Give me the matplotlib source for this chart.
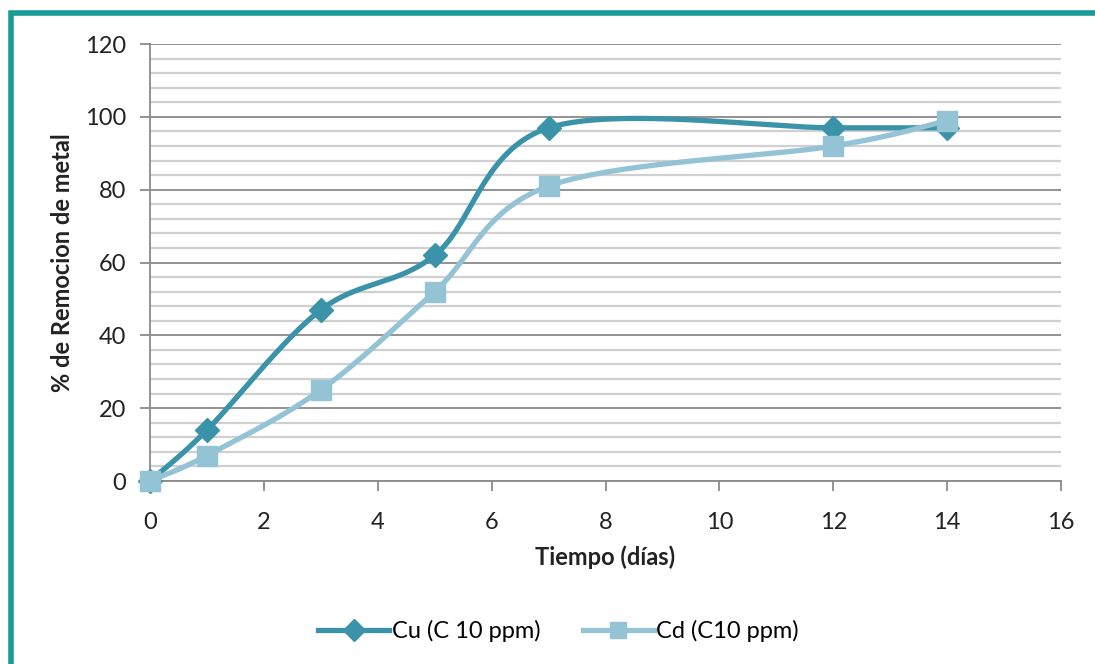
import numpy as np
import matplotlib
matplotlib.use("Agg")
import matplotlib.pyplot as plt
from matplotlib.lines import Line2D
from matplotlib.patches import Rectangle

plt.rcParams['font.family'] = ['Lato', 'DejaVu Sans']

dias = [0, 1, 3, 5, 7, 12, 14]
cu = [0, 14, 47, 62, 97, 97, 97]
cd = [0, 7, 25, 52, 81, 92, 99]

c_cu = "#3a93a8"
c_cd = "#93c3d5"


def smooth(x, y, n=40):
    # bezier smoothing like the spreadsheet "smoothed line" option
    p = np.column_stack([x, y]).astype(float)
    p = np.vstack([p[0], p, p[-1]])
    out = []
    t = np.linspace(0, 1, n)[:, None]
    for i in range(1, len(p) - 2):
        p0, p3 = p[i], p[i + 1]
        p1 = p0 + (p[i + 1] - p[i - 1]) / 6
        p2 = p3 - (p[i + 2] - p[i]) / 6
        seg = ((1 - t) ** 3) * p0 + 3 * ((1 - t) ** 2) * t * p1 \
            + 3 * (1 - t) * t ** 2 * p2 + t ** 3 * p3
        out.append(seg)
    out = np.vstack(out)
    return out[:, 0], out[:, 1]


fig = plt.figure(figsize=(10.95, 6.64), dpi=100)
ax = fig.add_axes([0.137, 0.2756, 0.832, 0.658])

# frame around the chart
fig.patches.append(Rectangle((11 / 1095, -0.1), 1.2, (664 - 13) / 664 + 0.1,
                             transform=fig.transFigure, fill=False,
                             edgecolor="#1a9c96", linewidth=4, zorder=0))

ax.set_yticks(np.arange(0, 121, 4), minor=True)
ax.set_yticks(np.arange(0, 121, 20))
ax.set_xticks(np.arange(0, 17, 2))
ax.set_xlim(0, 16)
ax.set_ylim(0, 120)
ax.grid(True, which="minor", axis="y", color="#d0d0d0", linewidth=1.6, zorder=0)
ax.grid(True, which="major", axis="y", color="#8a8a8a", linewidth=1.3, zorder=0)
ax.tick_params(which="minor", length=0)
ax.tick_params(which="major", length=7, width=1.3, color="#8a8a8a",
               labelsize=17, labelcolor="#222222")
ax.tick_params(axis="x", pad=15)
ax.tick_params(axis="y", pad=10)

for s in ["top", "right"]:
    ax.spines[s].set_visible(False)
for s in ["left", "bottom"]:
    ax.spines[s].set_color("#8a8a8a")
    ax.spines[s].set_linewidth(1.3)

sx, sy = smooth(dias, cu)
ax.plot(sx, sy, color=c_cu, lw=3.8, zorder=3, clip_on=False)
ax.plot(dias, cu, "D", color=c_cu, ms=12, zorder=4, clip_on=False)

sx, sy = smooth(dias, cd)
ax.plot(sx, sy, color=c_cd, lw=3.8, zorder=3, clip_on=False)
ax.plot(dias, cd, "s", color=c_cd, ms=14, zorder=4, clip_on=False)

ax.set_xlabel("Tiempo (días)", fontsize=17, fontweight="bold", labelpad=9,
              color="#222222")
ax.set_ylabel("% de Remocion de metal", fontsize=17, fontweight="bold",
              labelpad=8, color="#222222")

handles = [Line2D([], [], color=c_cu, lw=3.8, marker="D", ms=11),
           Line2D([], [], color=c_cd, lw=3.8, marker="s", ms=12)]
fig.legend(handles, ["Cu (C 10 ppm)", "Cd (C10 ppm)"], loc="center",
           bbox_to_anchor=(0.51, 0.05), ncol=2, frameon=False, fontsize=17,
           handlelength=3, handletextpad=0.1, columnspacing=1.8)

fig.savefig("out.png", dpi=100)
plt.close()
